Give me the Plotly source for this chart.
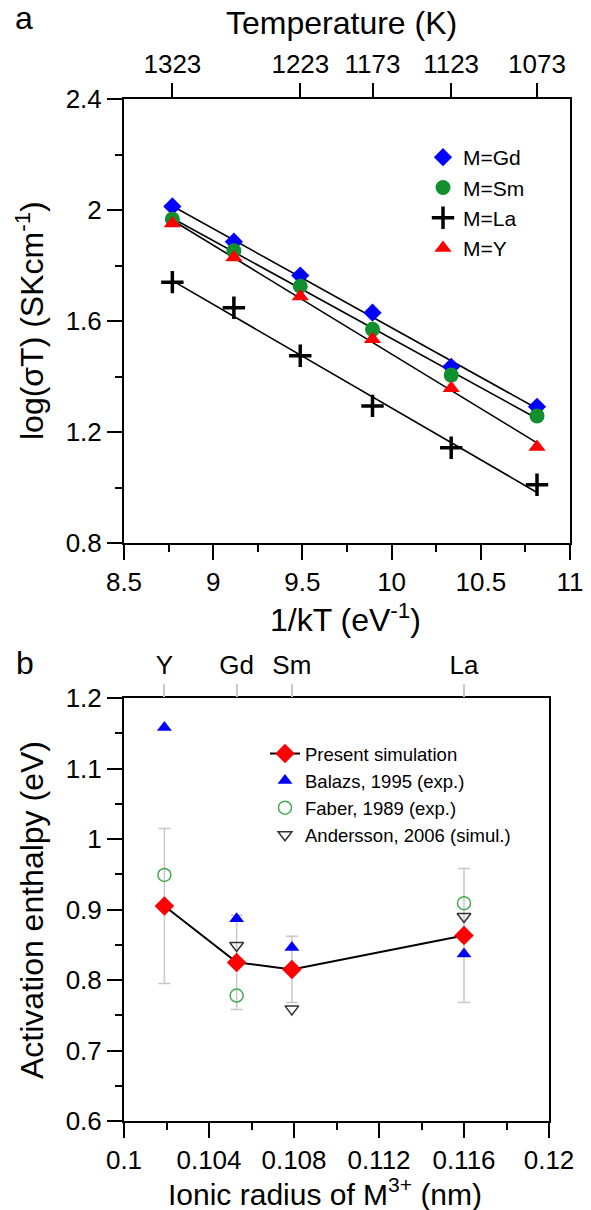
import numpy as np
import plotly.graph_objects as go

# ---------------- data: panel a ----------------
inv_kT = [8.771, 9.116, 9.488, 9.893, 10.334, 10.815]
logsT_Gd = [2.013, 1.886, 1.764, 1.630, 1.435, 1.291]
logsT_Sm = [1.967, 1.853, 1.725, 1.570, 1.405, 1.258]
logsT_La = [1.740, 1.648, 1.475, 1.294, 1.143, 1.010]
logsT_Y = [1.951, 1.829, 1.688, 1.534, 1.358, 1.146]
temp_ticks = [1323, 1223, 1173, 1123, 1073]

# ---------------- data: panel b ----------------
radius = [0.1019, 0.1053, 0.1079, 0.1160]
cation = ["Y", "Gd", "Sm", "La"]
present = [0.905, 0.825, 0.815, 0.863]
present_err = [0.110, 0.067, 0.047, 0.095]
balazs = [1.158, 0.887, 0.846, 0.837]
faber = [0.949, 0.778, None, 0.909]
andersson = [None, 0.849, 0.759, 0.890]

KB = 8.617333e-5
W, H = 591, 1210
FONT = "Liberation Sans, Arial, sans-serif"
TICKF = dict(family=FONT, size=26, color="black")


def px_x(p):
    return p / W


def px_y(p):
    return 1 - p / H


fig = go.Figure()

series = [
    ("M=Gd", logsT_Gd, dict(symbol="diamond", size=14, color="#0000ff")),
    ("M=Sm", logsT_Sm, dict(symbol="circle", size=15, color="#119030")),
    ("M=La", logsT_La, dict(symbol="cross-thin", size=16, color="black",
                            line=dict(width=3.5, color="black"))),
    ("M=Y", logsT_Y, dict(symbol="triangle-up", size=15, color="#ff0000")),
]

# fit lines
for name, vals, mk in series:
    a, b = np.polyfit(inv_kT, vals, 1)
    xs = [inv_kT[0], inv_kT[-1]]
    fig.add_trace(go.Scatter(x=xs, y=[a * v + b for v in xs], mode="lines",
                             line=dict(color="black", width=1.6),
                             showlegend=False, hoverinfo="skip",
                             xaxis="x", yaxis="y"))
for name, vals, mk in series:
    fig.add_trace(go.Scatter(x=inv_kT, y=vals, mode="markers", name=name,
                             marker=mk, xaxis="x", yaxis="y", legend="legend"))

# panel b
fig.add_trace(go.Scatter(x=radius, y=present, mode="lines+markers",
                         name="Present simulation",
                         line=dict(color="black", width=2),
                         marker=dict(symbol="diamond", size=15, color="#ff0000"),
                         error_y=dict(type="data", array=present_err,
                                      color="#c8c8c8", thickness=1.5, width=6),
                         xaxis="x2", yaxis="y2", legend="legend2"))
fig.add_trace(go.Scatter(x=radius, y=balazs, mode="markers",
                         name="Balazs, 1995 (exp.)",
                         marker=dict(symbol="triangle-up", size=13, color="#0000ff"),
                         xaxis="x2", yaxis="y2", legend="legend2"))
fig.add_trace(go.Scatter(x=radius, y=faber, mode="markers",
                         name="Faber, 1989 (exp.)",
                         marker=dict(symbol="circle-open", size=13, color="#45aa50",
                                     line=dict(width=1.5)),
                         xaxis="x2", yaxis="y2", legend="legend2"))
fig.add_trace(go.Scatter(x=radius, y=andersson, mode="markers",
                         name="Andersson, 2006 (simul.)",
                         marker=dict(symbol="triangle-down-open", size=12, color="#333333",
                                     line=dict(width=1.5)),
                         xaxis="x2", yaxis="y2", legend="legend2"))
# invisible traces to activate the top axes
fig.add_trace(go.Scatter(x=[inv_kT[0]], y=[logsT_Gd[0]], mode="markers",
                         marker=dict(opacity=0), xaxis="x3", yaxis="y",
                         showlegend=False, hoverinfo="skip"))
fig.add_trace(go.Scatter(x=[radius[0]], y=[present[0]], mode="markers",
                         marker=dict(opacity=0), xaxis="x4", yaxis="y2",
                         showlegend=False, hoverinfo="skip"))

axis_common = dict(showgrid=False, zeroline=False, showline=True, linecolor="black",
                   linewidth=2, ticks="outside", ticklen=15, tickwidth=2,
                   tickcolor="black", tickfont=TICKF, automargin=False)

dom_a_x = [px_x(124), px_x(570)]
dom_a_y = [px_y(543), px_y(99)]
dom_b_x = [px_x(124), px_x(549)]
dom_b_y = [px_y(1121), px_y(698)]

fig.update_layout(
    width=W, height=H, margin=dict(l=0, r=0, t=0, b=0, pad=0, autoexpand=False),
    paper_bgcolor="white", plot_bgcolor="white",
    font=dict(family=FONT, color="black"),
    xaxis=dict(domain=dom_a_x, range=[8.5, 11], tickmode="linear", tick0=8.5, dtick=0.5,
               mirror=True, anchor="y",
               minor=dict(ticks="outside", ticklen=7, tickwidth=2, tickcolor="black", dtick=0.25),
               **axis_common),
    yaxis=dict(domain=dom_a_y, range=[0.8, 2.4], tickmode="linear", tick0=0.8, dtick=0.4,
               mirror=True, anchor="x",
               minor=dict(ticks="outside", ticklen=7, tickwidth=2, tickcolor="black", dtick=0.2),
               **axis_common),
    xaxis3=dict(overlaying="x", side="top", range=[8.5, 11], anchor="y",
                tickmode="array", tickvals=[1 / (KB * t) for t in temp_ticks],
                ticktext=[str(t) for t in temp_ticks],
                showgrid=False, zeroline=False, showline=False, automargin=False,
                ticks="outside", ticklen=15, tickwidth=2, tickcolor="black",
                tickfont=TICKF),
    xaxis2=dict(domain=dom_b_x, range=[0.1, 0.12], tickmode="linear", tick0=0.1, dtick=0.004,
                mirror=True, anchor="y2",
                minor=dict(ticks="outside", ticklen=7, tickwidth=2, tickcolor="black", dtick=0.002),
                **axis_common),
    yaxis2=dict(domain=dom_b_y, range=[0.6, 1.2], tickmode="linear", tick0=0.6, dtick=0.1,
                mirror=True, anchor="x2",
                minor=dict(ticks="outside", ticklen=7, tickwidth=2, tickcolor="black", dtick=0.05),
                **axis_common),
    xaxis4=dict(overlaying="x2", side="top", range=[0.1, 0.12], anchor="y2",
                tickmode="array", tickvals=radius, ticktext=cation,
                showgrid=False, zeroline=False, showline=False, automargin=False,
                ticks="outside", ticklen=13, tickwidth=1.5, tickcolor="#c8c8c8",
                tickfont=TICKF),
    legend=dict(x=px_x(423), y=px_y(137), xanchor="left", yanchor="top",
                font=dict(family=FONT, size=21, color="black"),
                bgcolor="rgba(0,0,0,0)", borderwidth=0, tracegroupgap=0),
    legend2=dict(x=px_x(265), y=px_y(735), xanchor="left", yanchor="top",
                 font=dict(family=FONT, size=18.5, color="black"),
                 bgcolor="rgba(0,0,0,0)", borderwidth=0, tracegroupgap=0),
    showlegend=True,
)

ann = [
    dict(text="a", x=px_x(13), y=px_y(18), xanchor="left", yanchor="middle",
         font=dict(size=32)),
    dict(text="Temperature (K)", x=px_x(341), y=px_y(23), xanchor="center", yanchor="middle",
         font=dict(size=32)),
    dict(text="log(σT) (SKcm<sup>-1</sup>)", x=px_x(30), y=px_y(321), textangle=-90,
         xanchor="center", yanchor="middle", font=dict(size=32)),
    dict(text="1/kT (eV<sup>-1</sup>)", x=px_x(345), y=px_y(618), xanchor="center",
         yanchor="middle", font=dict(size=32)),
    dict(text="b", x=px_x(14), y=px_y(663), xanchor="left", yanchor="middle",
         font=dict(size=32)),
    dict(text="Activation enthalpy (eV)", x=px_x(32), y=px_y(910), textangle=-90,
         xanchor="center", yanchor="middle", font=dict(size=32)),
    dict(text="Ionic radius of M<sup>3+</sup> (nm)", x=px_x(325), y=px_y(1192),
         xanchor="center", yanchor="middle", font=dict(size=30)),
]
for a in ann:
    a.update(xref="paper", yref="paper", showarrow=False)
    a["font"].update(family=FONT, color="black")
fig.update_layout(annotations=ann)

fig.write_html("out.html")
